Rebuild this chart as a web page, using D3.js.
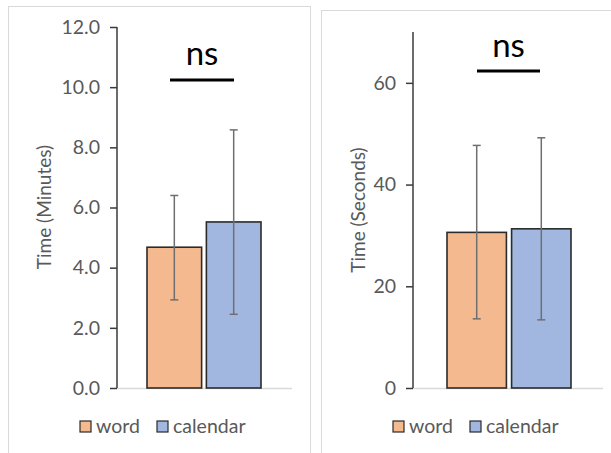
<!DOCTYPE html>
<html>
<head>
<meta charset="utf-8">
<script src="https://cdn.jsdelivr.net/npm/d3@7"></script>
<style>
  html, body { margin: 0; padding: 0; background: #fff; }
  svg { display: block; }
  text { font-family: Lato, "Open Sans", sans-serif; }
</style>
</head>
<body>
<svg id="chart" width="611" height="453"></svg>
<script>
// Conditions shown in both panels
const conditions = ["word", "calendar"];
const conditionColors = ["#F4B98F", "#A1B7E0"];

// Left panel: completion time in minutes (mean, lower and upper error)
const minutesMean = [4.68, 5.52];
const minutesLow = [2.93, 2.45];
const minutesHigh = [6.40, 8.58];
const minutesTicks = [0, 2, 4, 6, 8, 10, 12];

// Right panel: time in seconds
const secondsMean = [30.6, 31.3];
const secondsLow = [13.6, 13.4];
const secondsHigh = [47.7, 49.2];
const secondsTicks = [0, 20, 40, 60];

const yLabels = ["Time (Minutes)", "Time (Seconds)"];
const sigLabel = "ns";

const svg = d3.select("#chart");

function panel(cfg) {
  const g = svg.append("g");

  // card border
  g.append("rect")
    .attr("x", cfg.box[0] + 0.5).attr("y", cfg.box[1] + 0.5)
    .attr("width", cfg.box[2]).attr("height", cfg.box[3])
    .attr("fill", "#fff").attr("stroke", "#d9d9d9").attr("stroke-width", 1);

  const y = d3.scaleLinear().domain(cfg.domain).range([cfg.plotBottom, cfg.plotTop]);
  const x = d3.scaleBand().domain(conditions)
    .range([cfg.bandLeft, cfg.bandRight]).paddingInner(cfg.padInner).paddingOuter(0);

  // light baseline
  g.append("line")
    .attr("x1", cfg.axisX).attr("x2", cfg.baseRight)
    .attr("y1", y(0) + 0.5).attr("y2", y(0) + 0.5)
    .attr("stroke", "#d9d9d9").attr("stroke-width", 1.5);

  // bars
  g.selectAll("rect.bar").data(conditions).join("rect")
    .attr("class", "bar")
    .attr("x", d => x(d))
    .attr("width", x.bandwidth())
    .attr("y", (d, i) => y(cfg.mean[i]))
    .attr("height", (d, i) => y(0) - y(cfg.mean[i]))
    .attr("fill", (d, i) => conditionColors[i])
    .attr("stroke", "#2b2b2b").attr("stroke-width", 1.6);

  // error bars
  const eb = g.selectAll("g.err").data(conditions).join("g").attr("class", "err")
    .attr("transform", d => `translate(${x(d) + x.bandwidth() / 2},0)`);
  eb.append("line")
    .attr("y1", (d, i) => y(cfg.low[i])).attr("y2", (d, i) => y(cfg.high[i]))
    .attr("stroke", "#6f6f6f").attr("stroke-width", 1.5);
  eb.append("line").attr("x1", -4).attr("x2", 4)
    .attr("y1", (d, i) => y(cfg.high[i])).attr("y2", (d, i) => y(cfg.high[i]))
    .attr("stroke", "#6f6f6f").attr("stroke-width", 1.5);
  eb.append("line").attr("x1", -4).attr("x2", 4)
    .attr("y1", (d, i) => y(cfg.low[i])).attr("y2", (d, i) => y(cfg.low[i]))
    .attr("stroke", "#6f6f6f").attr("stroke-width", 1.5);

  // y axis
  const axis = d3.axisLeft(y).tickValues(cfg.ticks).tickFormat(cfg.fmt)
    .tickSizeInner(7).tickSizeOuter(0).tickPadding(10);
  const ag = g.append("g").attr("transform", `translate(${cfg.axisX},0)`).call(axis);
  ag.select(".domain").attr("stroke", "#3a3a3a").attr("stroke-width", 1.5)
    .attr("d", `M0,${cfg.plotTop}V${y(0)}`);
  ag.selectAll(".tick line").attr("stroke", "#3a3a3a").attr("stroke-width", 1.5);
  ag.selectAll(".tick text").attr("fill", "#595959")
    .style("font-size", "19.5px").style("font-family", "Lato, sans-serif");

  // y label
  g.append("text")
    .attr("transform", `translate(${cfg.labelX},${cfg.labelY}) rotate(-90)`)
    .attr("text-anchor", "middle").attr("dominant-baseline", "central")
    .attr("fill", "#595959").style("font-size", "19px")
    .text(cfg.yLabel);

  // significance bracket
  g.append("line")
    .attr("x1", cfg.sigX[0]).attr("x2", cfg.sigX[1])
    .attr("y1", cfg.sigY).attr("y2", cfg.sigY)
    .attr("stroke", "#000").attr("stroke-width", 3);
  g.append("text")
    .attr("x", (cfg.sigX[0] + cfg.sigX[1]) / 2).attr("y", cfg.sigY - cfg.sigGap)
    .attr("text-anchor", "middle").attr("fill", "#000")
    .style("font-size", "33px")
    .text(sigLabel);

  // legend
  conditions.forEach((c, i) => {
    const lx = cfg.legendX[i];
    g.append("rect")
      .attr("x", lx).attr("y", 421).attr("width", 11).attr("height", 11)
      .attr("fill", conditionColors[i]).attr("stroke", "#2b2b2b").attr("stroke-width", 1.2);
    g.append("text")
      .attr("x", lx + 16).attr("y", 433)
      .attr("fill", "#595959").style("font-size", "19.5px")
      .text(c);
  });
}

panel({
  box: [8, 6, 302, 460],
  domain: [0, 12], plotTop: 27, plotBottom: 388,
  axisX: 117, baseRight: 292,
  bandLeft: 147, bandRight: 261, padInner: 0.08,
  mean: minutesMean, low: minutesLow, high: minutesHigh,
  ticks: minutesTicks, fmt: d3.format(".1f"),
  yLabel: yLabels[0], labelX: 43, labelY: 207,
  sigX: [170, 234], sigY: 80, sigGap: 15,
  legendX: [80, 157]
});

panel({
  box: [321, 10, 300, 460],
  domain: [0, 70], plotTop: 32, plotBottom: 388,
  axisX: 413, baseRight: 603,
  bandLeft: 447, bandRight: 571, padInner: 0.08,
  mean: secondsMean, low: secondsLow, high: secondsHigh,
  ticks: secondsTicks, fmt: d3.format("d"),
  yLabel: yLabels[1], labelX: 357, labelY: 210,
  sigX: [477, 540], sigY: 71, sigGap: 14,
  legendX: [393, 470]
});
</script>
</body>
</html>
